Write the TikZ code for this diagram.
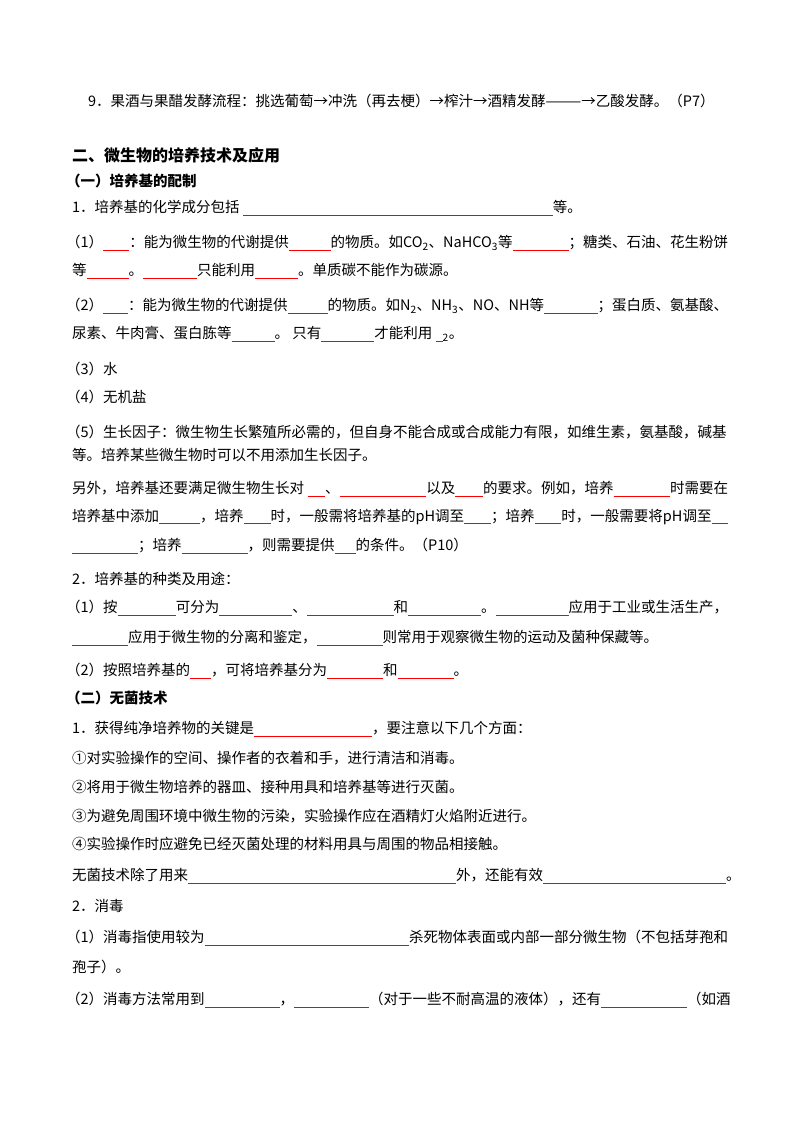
\documentclass[tikz,border=0pt]{standalone}
\usepackage{fontspec}
\setmainfont{Noto Sans CJK SC}
\newcommand\bl[1]{\textcolor{red}{\rule[-2.5pt]{#1pt}{0.7pt}}}
\newcommand\bs[1]{{\color{red}\leaders\hrule height -1.8pt depth 2.5pt\hskip #1pt plus #1pt}}
\newcommand\fa[1]{\makebox[662pt][s]{#1}}
\newcommand\fb[1]{\makebox[656pt][s]{#1}}
\begin{document}
\begin{tikzpicture}[x=1pt,y=-1pt,
  ln/.style={anchor=west,inner sep=0pt,font=\fontsize{14.5}{16}\selectfont},
  hd/.style={ln,font=\fontsize{14.5}{16}\selectfont\bfseries}]
\useasboundingbox[fill=white] (0,0) rectangle (800,1132);
\node[ln] (l1) at (88,101) {9．果酒与果醋发酵流程：挑选葡萄→冲洗（再去梗）→榨汁→酒精发酵———→乙酸发酵。（P7）};
\node[hd,font=\fontsize{16}{18}\selectfont\bfseries] (h1) at (72,155) {二、微生物的培养技术及应用};
\node[hd] (h2) at (66,181) {（一）培养基的配制};
\node[ln] (l2) at (72,208) {1．培养基的化学成分包括 \bl{310}等。};
\node[ln] (l3) at (66,243) {\fa{（1）\bs{20}：能为微生物的代谢提供\bs{32}的物质。如CO\textsubscript{2}、NaHCO\textsubscript{3}等\bs{43}；糖类、石油、花生粉饼}};
\node[ln] (l4) at (72,271) {等\bl{42}。\bl{54}只能利用\bl{43}。单质碳不能作为碳源。};
\node[ln] (l5) at (66,306) {\fa{（2）\bs{20}：能为微生物的代谢提供\bs{32}的物质。如N\textsubscript{2}、NH\textsubscript{3}、NO、NH等\bs{43}；蛋白质、氨基酸、}};
\node[ln] (l6) at (72,334) {尿素、牛肉膏、蛋白胨等\bl{43}。 只有\bl{53}才能利用 \bl{7}\textsubscript{2}。};
\node[ln] (l7) at (66,369) {（3）水};
\node[ln] (l8) at (66,397) {（4）无机盐};
\node[ln] (l9) at (66,432) {（5）生长因子：微生物生长繁殖所必需的，但自身不能合成或合成能力有限，如维生素，氨基酸，碱基};
\node[ln] (l10) at (72,455) {等。培养某些微生物时可以不用添加生长因子。};
\node[ln] (l11) at (72,489) {\fb{另外，培养基还要满足微生物生长对 \bs{13}、\bs{66}以及\bs{21}的要求。例如，培养\bs{43}时需要在}};
\node[ln] (l12) at (72,517) {\fb{培养基中添加\bs{32}，培养\bs{21}时，一般需将培养基的pH调至\bs{21}；培养\bs{21}时，一般需要将pH调至\bs{13}}};
\node[ln] (l13) at (72,546) {\bl{66}；培养\bl{66}，则需要提供\bl{21}的条件。（P10）};
\node[ln] (l14) at (72,579) {2．培养基的种类及用途：};
\node[ln] (l15) at (66,608) {\fa{（1）按\bs{43}可分为\bs{54}、\bs{64}和\bs{54}。\bs{54}应用于工业或生活生产，}};
\node[ln] (l16) at (72,638) {\bl{56}应用于微生物的分离和鉴定，\bl{66}则常用于观察微生物的运动及菌种保藏等。};
\node[ln] (l17) at (66,671) {（2）按照培养基的\bl{21}，可将培养基分为\bl{56}和\bl{56}。};
\node[hd] (h3) at (66,698) {（二）无菌技术};
\node[ln] (l18) at (72,729) {1．获得纯净培养物的关键是\bl{118}，要注意以下几个方面：};
\node[ln] (l19) at (72,758) {①对实验操作的空间、操作者的衣着和手，进行清洁和消毒。};
\node[ln] (l20) at (72,787) {②将用于微生物培养的器皿、接种用具和培养基等进行灭菌。};
\node[ln] (l21) at (72,816) {③为避免周围环境中微生物的污染，实验操作应在酒精灯火焰附近进行。};
\node[ln] (l22) at (72,844) {④实验操作时应避免已经灭菌处理的材料用具与周围的物品相接触。};
\node[ln] (l23) at (72,876) {\fb{无菌技术除了用来\bs{268}外，还能有效\bs{183}。}};
\node[ln] (l24) at (72,906) {2．消毒};
\node[ln] (l25) at (66,938) {\fa{（1）消毒指使用较为\bs{200}杀死物体表面或内部一部分微生物（不包括芽孢和}};
\node[ln] (l26) at (72,967) {孢子）。};
\node[ln] (l27) at (66,1000) {\fa{（2）消毒方法常用到\bs{75}，\bs{75}（对于一些不耐高温的液体），还有\bs{86}（如酒}};
\end{tikzpicture}
\end{document}
